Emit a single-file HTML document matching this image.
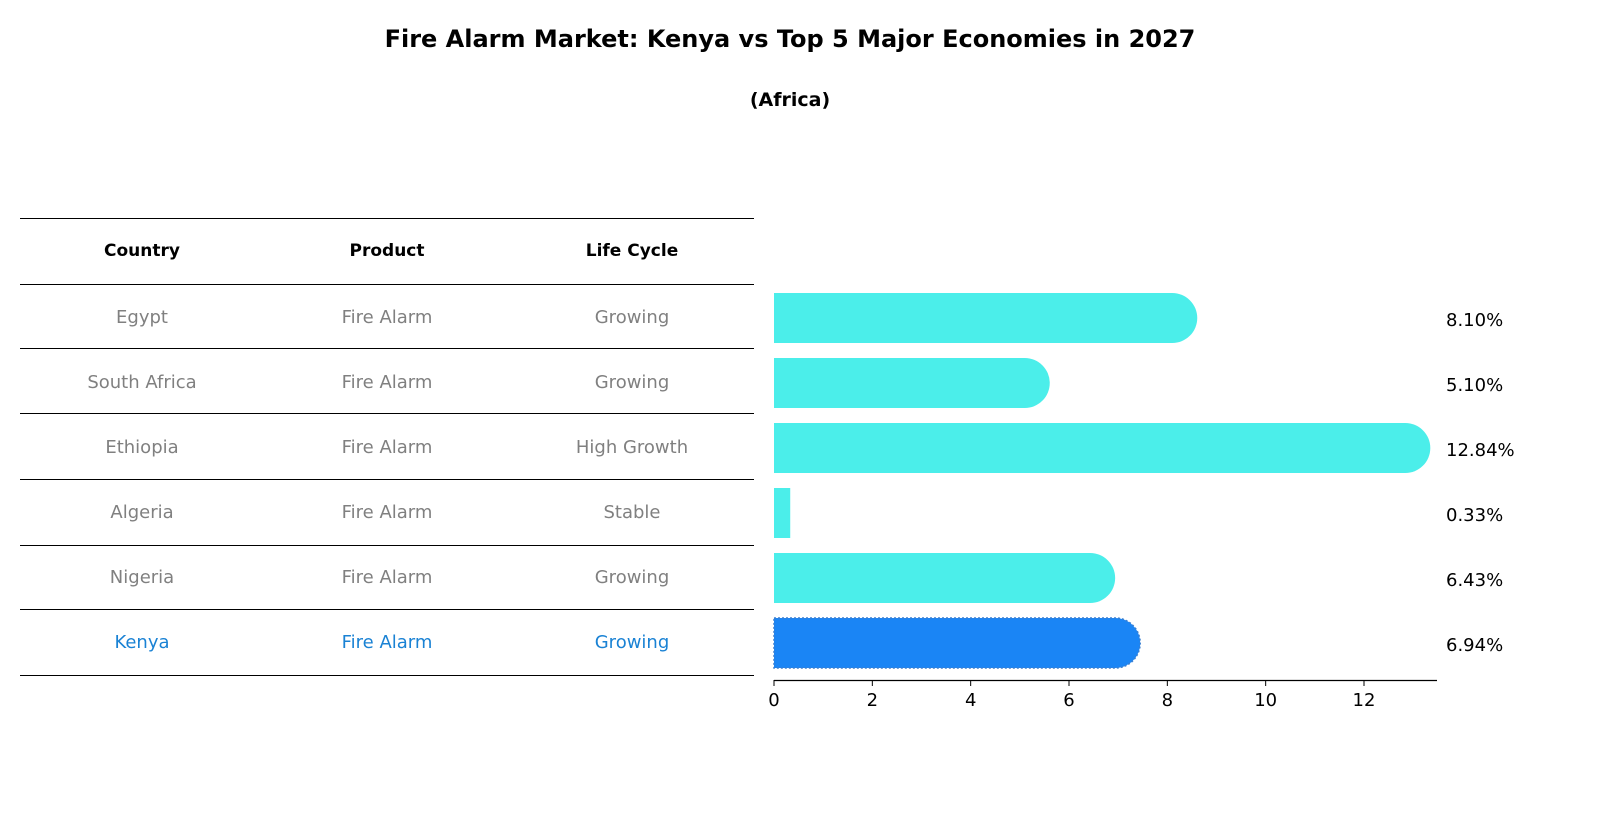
<!DOCTYPE html>
<html><head><meta charset="utf-8"><style>
body{margin:0;background:#fff;}
svg{display:block;font-family:"DejaVu Sans","Liberation Sans",sans-serif;}
</style></head><body>
<svg width="1604" height="823" viewBox="0 0 1604 823">
<text x="790" y="47" text-anchor="middle" font-size="24" font-weight="bold">Fire Alarm Market: Kenya vs Top 5 Major Economies in 2027</text>
<text x="790" y="106" text-anchor="middle" font-size="19" font-weight="bold">(Africa)</text>
<g id="table"></g>
<g id="bars"></g>
</svg>
<script>
const countries=["Egypt","South Africa","Ethiopia","Algeria","Nigeria","Kenya"];
const products=["Fire Alarm","Fire Alarm","Fire Alarm","Fire Alarm","Fire Alarm","Fire Alarm"];
const lifeCycles=["Growing","Growing","High Growth","Stable","Growing","Growing"];
const values=[8.10,5.10,12.84,0.33,6.43,6.94];
const xTicks=[0,2,4,6,8,10,12];
const NS="http://www.w3.org/2000/svg";
function mk(tag,attrs,parent,txt){const e=document.createElementNS(NS,tag);for(const k in attrs)e.setAttribute(k,attrs[k]);if(txt!==undefined)e.textContent=txt;parent.appendChild(e);return e;}
const tbl=document.getElementById('table');
const lineYs=[218.5,284.5,348.5,413.5,479.5,545.5,609.5,675.5];
const rowY=i=>316+i*65;
const cols=[142,387,632];
lineYs.forEach((y,i)=>{const l=mk('line',{x1:20,x2:754,y1:y,y2:y,stroke:'#000','stroke-width':1},tbl);

});
["Country","Product","Life Cycle"].forEach((h,j)=>{const t=mk('text',{x:cols[j],y:256,'text-anchor':'middle','font-size':17,'font-weight':'bold'},tbl,h);

});
countries.forEach((c,i)=>{const col=i===countries.length-1?'#1a82d4':'#808080';
[c,products[i],lifeCycles[i]].forEach((v,j)=>{const t=mk('text',{x:cols[j],y:rowY(i)+7,'text-anchor':'middle','font-size':18,fill:col},tbl,v);

});});
const g=document.getElementById('bars');
const x0=774,scale=(1364-774)/12;
const xs=v=>x0+v*scale;
const bh=50,r=25;
values.forEach((v,i)=>{const cy=rowY(i)+2,top=cy-bh/2,xe=xs(v);
const isK=i===values.length-1;const fill=isK?'#1a85f5':'#4beeea';
let d;
if(xe-x0<r){d=`M${x0},${top}H${xe}V${top+bh}H${x0}Z`;}
else{d=`M${x0},${top}H${xe}A${r},${r} 0 0 1 ${xe},${top+bh}H${x0}Z`;}
const p=mk('path',{d:d,fill:fill},g);
if(isK){p.setAttribute('stroke','#3a7fd0');p.setAttribute('stroke-dasharray','2,2');p.setAttribute('stroke-width','1.5');}


const t=mk('text',{x:1446,y:cy+8,'font-size':18,fill:'#000'},g,v.toFixed(2)+'%');

});
const ax=mk('line',{x1:774,x2:1437,y1:680.5,y2:680.5,stroke:'#000','stroke-width':1.3},g);


xTicks.forEach(v=>{const tl=mk('line',{x1:xs(v),x2:xs(v),y1:680,y2:686,stroke:'#000','stroke-width':1},g);


const t=mk('text',{x:xs(v),y:706,'text-anchor':'middle','font-size':18},g,String(v));

});
</script>
</body></html>
